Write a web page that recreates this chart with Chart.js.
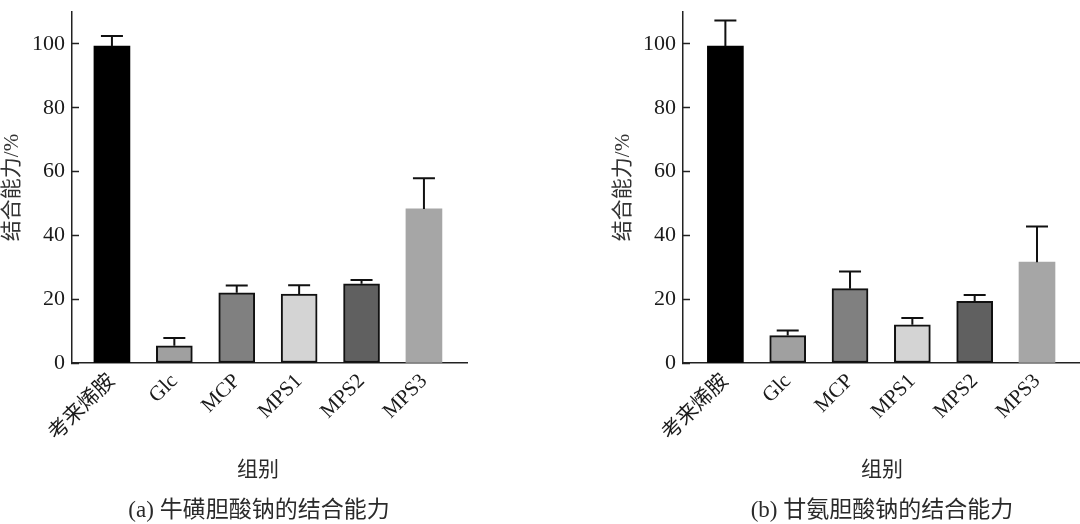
<!DOCTYPE html>
<html>
<head>
<meta charset="utf-8">
<script src="https://cdn.jsdelivr.net/npm/chart.js@4/dist/chart.umd.min.js"></script>
<style>
  html, body { margin: 0; padding: 0; background: #fff; overflow: hidden; }
  body { width: 1080px; height: 524px; position: relative; }
  .panel { position: absolute; top: 0; height: 524px; }
  .lbl { position: absolute; transform: translate(-50%, -50%); white-space: nowrap;
         font-family: 'Liberation Serif', 'Noto Sans CJK SC', serif; color: #2a2a2a; }
</style>
</head>
<body>
<div class="panel" style="left:0;width:540px"><canvas id="chartA" width="540" height="524"></canvas></div>
<div class="panel" style="left:540px;width:560px"><canvas id="chartB" width="560" height="524"></canvas></div>
<div class="lbl" style="left:258px;top:467px;font-size:21px">组别</div>
<div class="lbl" style="left:882px;top:467px;font-size:21px">组别</div>
<div class="lbl" style="left:259px;top:507px;font-size:23px">(a) 牛磺胆酸钠的结合能力</div>
<div class="lbl" style="left:882px;top:507px;font-size:23px">(b) 甘氨胆酸钠的结合能力</div>
<script>
// groups on the x axis
var categories = ['考来烯胺', 'Glc', 'MCP', 'MPS1', 'MPS2', 'MPS3'];

// (a) sodium taurocholate binding, mean and upper error (%)
var taurocholateMeans = [99.3, 5.4, 22.0, 21.6, 24.8, 48.3];
var taurocholateErrors = [3.2, 2.4, 2.3, 2.8, 1.2, 9.6];

// (b) sodium glycocholate binding, mean and upper error (%)
var glycocholateMeans = [99.3, 8.6, 23.3, 12.0, 19.3, 31.6];
var glycocholateErrors = [8.0, 1.6, 5.4, 2.1, 2.0, 11.2];

var barColors = ['#000000', '#a0a0a0', '#808080', '#d4d4d4', '#606060', '#a6a6a6'];
var barBorders = [0, 2, 2, 2, 2, 0];

var serif = "'Liberation Serif', 'Noto Sans CJK SC', serif";

// draws the upper error bar with a cap on top of each bar
var errorBars = {
    id: 'errorBars',
    afterDatasetsDraw(chart, args, opts) {
        var ctx = chart.ctx;
        var y = chart.scales.y;
        var meta = chart.getDatasetMeta(0);
        var values = chart.data.datasets[0].data;
        ctx.save();
        ctx.strokeStyle = '#111';
        ctx.lineWidth = 2;
        meta.data.forEach(function (bar, i) {
            var top = y.getPixelForValue(values[i].y + opts.errors[i]);
            ctx.beginPath();
            ctx.moveTo(bar.x, bar.y);
            ctx.lineTo(bar.x, top);
            ctx.moveTo(bar.x - 11, top);
            ctx.lineTo(bar.x + 11, top);
            ctx.stroke();
        });
        ctx.restore();
    }
};

function makeChart(id, means, errors, xMin, padLeft, padRight) {
    var ctx = document.getElementById(id).getContext('2d');
    return new Chart(ctx, {
        type: 'bar',
        data: {
            datasets: [{
                data: means.map((v, i) => ({ x: i, y: v })),
                backgroundColor: barColors,
                borderColor: '#111',
                borderWidth: barBorders,
                borderSkipped: false,
                barThickness: 36
            }]
        },
        options: {
            responsive: false,
            animation: false,
            layout: { padding: { top: 12, left: padLeft, right: padRight, bottom: 0 } },
            plugins: {
                legend: { display: false },
                tooltip: { enabled: false },
                errorBars: { errors: errors }
            },
            scales: {
                x: {
                    type: 'linear',
                    offset: false,
                    min: xMin,
                    max: 5.69,
                    grid: { display: false, drawTicks: false },
                    border: { display: true, color: '#222', width: 1.5 },
                    afterBuildTicks: function (scale) {
                        scale.ticks = categories.map((c, i) => ({ value: i }));
                    },
                    afterFit: function (scale) { scale.height = 161; },
                    ticks: {
                        autoSkip: false,
                        minRotation: 45,
                        maxRotation: 45,
                        padding: 6,
                        color: '#1a1a1a',
                        font: { family: serif, size: 21 },
                        callback: v => categories[v]
                    }
                },
                y: {
                    min: 0,
                    max: 110,
                    grid: { drawOnChartArea: false, drawTicks: true, tickLength: -7, tickColor: '#222', tickWidth: 1.5 },
                    border: { display: true, color: '#222', width: 1.5 },
                    afterFit: function (scale) {
                        scale.width = 72;
                        scale.paddingTop = 0;
                        scale.paddingBottom = 0;
                    },
                    ticks: {
                        stepSize: 20,
                        includeBounds: false,
                        padding: 14,
                        color: '#1a1a1a',
                        font: { family: serif, size: 22 }
                    },
                    title: {
                        display: true,
                        text: '结合能力/%',
                        color: '#333',
                        padding: { top: 0, bottom: 0 },
                        font: { family: serif, size: 21 }
                    }
                }
            }
        },
        plugins: [errorBars]
    });
}

makeChart('chartA', taurocholateMeans, taurocholateErrors, -0.64, 0, 73);
makeChart('chartB', glycocholateMeans, glycocholateErrors, -0.68, 71, 20);
</script>
</body>
</html>
